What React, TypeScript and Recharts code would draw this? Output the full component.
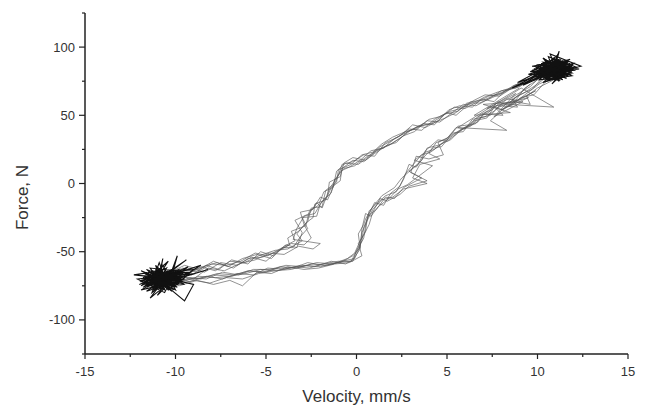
import { ComposedChart, Line, XAxis, YAxis } from "recharts";

type Pt = [number, number];

const X_TICKS = [-15, -12.5, -10, -7.5, -5, -2.5, 0, 2.5, 5, 7.5, 10, 12.5, 15];
const Y_TICKS = [-125, -100, -75, -50, -25, 0, 25, 50, 75, 100, 125];

// noisy dwell at the negative end
const leftNoise: Pt[] = [
  [-10.8, -70], [-11.6, -66], [-10.2, -74], [-11.9, -72], [-10.5, -62], [-11.2, -78], [-9.8, -68],
  [-11.7, -69], [-10.4, -76], [-10.9, -58], [-11.3, -73], [-9.6, -66], [-12.1, -70], [-10.6, -80],
  [-10.0, -64], [-11.4, -62], [-10.7, -75], [-9.3, -61], [-11.8, -76], [-10.3, -68], [-11.0, -82],
  [-10.1, -70], [-12.3, -67], [-10.8, -64], [-9.9, -74], [-11.5, -70], [-10.4, -57], [-11.1, -71],
  [-9.5, -70], [-11.6, -79], [-10.2, -66], [-10.9, -73], [-9.2, -65], [-11.3, -67], [-10.6, -71],
  [-11.9, -64], [-10.0, -78], [-10.7, -60], [-11.2, -75], [-9.7, -72], [-10.5, -68], [-11.4, -84],
  [-10.3, -72], [-11.7, -73], [-10.8, -66], [-9.0, -63], [-10.1, -76], [-11.0, -69], [-12.0, -74],
  [-10.4, -65], [-9.4, -56], [-10.9, -71], [-11.5, -66], [-10.2, -79], [-10.7, -69], [-8.6, -60],
  [-9.8, -70], [-11.1, -63], [-10.6, -74], [-9.5, -86], [-9.0, -74], [-10.3, -70],
];

const leftNoise2: Pt[] = [
  [-11.0, -71], [-11.8, -69], [-10.4, -73], [-11.3, -66], [-10.7, -77], [-11.6, -74], [-10.2, -68],
  [-11.1, -64], [-10.8, -75], [-11.9, -71], [-10.5, -70], [-11.4, -77], [-10.1, -66], [-11.7, -68],
  [-10.9, -73], [-11.2, -79], [-10.3, -71], [-11.5, -65], [-10.6, -67], [-11.9, -75], [-10.8, -62],
  [-11.3, -72], [-10.0, -73], [-11.6, -70], [-10.7, -69], [-11.1, -76], [-10.4, -64], [-11.8, -73],
  [-10.6, -78], [-11.0, -67], [-10.2, -75], [-11.5, -71], [-10.9, -66], [-11.3, -80], [-10.5, -72],
  [-11.7, -66], [-10.8, -70], [-11.2, -74], [-10.1, -70], [-11.4, -68], [-10.6, -74], [-11.9, -78],
  [-10.3, -66], [-11.0, -73], [-10.7, -55], [-10.9, -70], [-11.6, -76], [-10.4, -69], [-11.1, -60],
  [-10.8, -72], [-9.6, -64], [-10.5, -68], [-8.9, -66], [-10.2, -71], [-8.2, -63], [-9.7, -69],
];

const leftNoise3: Pt[] = [
  [-10.6, -70], [-9.7, -66], [-11.4, -72], [-10.0, -75], [-11.1, -65], [-9.6, -72], [-11.7, -75],
  [-10.3, -64], [-10.9, -77], [-9.9, -69], [-11.5, -68], [-10.4, -74], [-9.5, -65], [-11.2, -70],
  [-10.1, -78], [-10.8, -66], [-9.8, -73], [-11.6, -63], [-10.5, -76], [-11.0, -71], [-9.6, -68],
  [-11.3, -77], [-10.2, -63], [-10.9, -68], [-9.9, -76], [-11.8, -70], [-10.6, -65], [-10.0, -71],
  [-11.2, -67], [-10.4, -78], [-9.7, -70], [-11.0, -74], [-10.7, -64], [-11.5, -73], [-10.2, -69],
  [-9.5, -74], [-10.8, -72], [-11.3, -64], [-10.1, -67], [-10.6, -76], [-9.8, -63], [-11.1, -69],
  [-10.4, -71], [-9.9, -53], [-10.3, -72], [-11.7, -66], [-10.7, -73],
];

// noisy dwell at the positive end
const rightNoise: Pt[] = [
  [10.8, 82], [11.6, 86], [10.2, 78], [11.9, 84], [10.5, 90], [11.2, 76], [9.8, 84], [12.2, 85],
  [10.6, 93], [11.0, 79], [9.5, 80], [11.5, 88], [10.3, 74], [11.8, 80], [10.1, 87], [11.3, 83],
  [9.9, 77], [12.4, 86], [10.7, 95], [11.1, 81], [10.0, 84], [11.7, 89], [10.4, 79], [11.4, 78],
  [10.9, 91], [9.6, 82], [11.9, 82], [10.6, 76], [11.2, 87], [10.2, 83], [12.0, 88], [10.8, 73],
  [11.5, 84], [9.7, 86], [11.0, 89], [10.5, 80], [11.6, 81], [10.3, 92], [11.3, 77], [10.1, 81],
  [12.1, 83], [10.9, 85], [9.4, 76], [11.4, 90], [10.6, 84], [11.8, 86], [10.7, 78], [11.1, 94],
  [10.4, 86], [11.7, 79], [10.0, 80], [11.2, 84], [9.2, 72], [10.8, 88], [11.5, 82], [10.3, 82],
  [11.0, 86], [12.3, 84], [10.6, 81], [11.2, 75], [10.8, 83],
];

const rightNoise2: Pt[] = [
  [10.9, 83], [11.7, 85], [10.3, 81], [11.2, 88], [10.6, 78], [11.9, 86], [10.1, 84], [11.4, 80],
  [10.8, 89], [11.6, 83], [10.4, 86], [11.1, 78], [10.0, 82], [11.8, 88], [10.7, 84], [11.3, 91],
  [10.5, 80], [12.0, 84], [10.2, 87], [11.5, 79], [10.9, 86], [11.0, 81], [10.3, 77], [11.7, 90],
  [10.6, 85], [11.2, 82], [10.8, 79], [11.9, 81], [10.4, 89], [11.4, 85], [10.7, 81], [11.6, 87],
  [10.1, 79], [11.1, 85], [10.5, 83], [11.3, 79], [10.9, 88], [11.8, 83], [10.2, 82], [11.0, 87],
  [10.6, 80], [11.5, 86], [10.8, 84], [11.2, 97], [10.9, 82], [9.8, 76], [10.4, 80], [9.2, 73],
  [10.1, 78], [8.6, 70], [9.6, 77], [8.9, 74], [10.3, 84],
];

const rightNoise3: Pt[] = [
  [10.7, 84], [9.8, 80], [11.5, 90], [10.2, 88], [11.9, 79], [10.5, 76], [11.2, 91], [9.9, 85],
  [11.7, 82], [10.4, 91], [11.0, 76], [10.0, 79], [11.6, 88], [10.8, 80], [9.7, 83], [11.4, 76],
  [10.3, 89], [11.9, 87], [10.6, 82], [11.1, 90], [10.1, 76], [11.5, 78], [10.9, 92], [9.9, 81],
  [11.3, 86], [10.4, 77], [12.0, 85], [10.7, 89], [11.0, 83], [10.2, 80], [11.8, 91], [10.5, 86],
  [9.8, 78], [11.2, 80], [10.8, 87], [11.6, 77], [10.3, 84], [11.4, 89], [10.0, 87], [10.9, 78],
  [11.7, 84], [10.6, 90], [11.1, 82],
];

// scratchy bits on the upper-right part of the loop
const midNoise: Pt[] = [
  [9.0, 70], [6.5, 50], [8.5, 52], [7.0, 58], [9.2, 60], [7.6, 49], [8.8, 66], [7.2, 55], [9.5, 63],
  [8.0, 54], [9.9, 68], [8.4, 58], [10.9, 56], [9.1, 70], [5.6, 41], [8.3, 39], [7.4, 46], [9.6, 73],
];

const cycleA: Pt[] = [
  [-10.6, -70], [-9.9, -64], [-9.1, -67], [-8.3, -60], [-7.6, -63], [-6.9, -56], [-6.0, -59],
  [-5.3, -50], [-4.6, -53], [-3.9, -45], [-3.3, -47], [-3.0, -36], [-3.4, -27], [-2.6, -22],
  [-2.2, -14], [-1.9, -18], [-1.5, -4], [-1.0, 6], [-0.8, 14], [-0.2, 16], [0.4, 21], [1.0, 20],
  [1.6, 30], [2.3, 34], [2.9, 40], [3.6, 39], [4.3, 47], [5.0, 52], [5.5, 50], [6.2, 58], [6.9, 62],
  [7.6, 60], [8.2, 68], [9.0, 71], [9.8, 78], [10.6, 80],
  [10.9, 76], [10.0, 70], [9.4, 64], [9.6, 58], [8.7, 60], [8.1, 54], [7.6, 56], [7.2, 48],
  [6.5, 46], [6.0, 40], [5.5, 41], [5.0, 33], [4.4, 30], [4.0, 22], [4.6, 18], [3.5, 14], [3.1, 4],
  [3.9, 0], [2.6, -4], [2.0, -10], [1.4, -12], [0.9, -19], [0.6, -27], [0.3, -36], [0.2, -46],
  [-0.1, -55], [-0.8, -57], [-1.6, -60], [-2.5, -59], [-3.3, -62], [-4.2, -61], [-5.0, -65],
  [-5.9, -64], [-6.8, -67], [-7.7, -66], [-8.6, -70], [-9.5, -69], [-10.4, -72],
];

const cycleB: Pt[] = [
  [-10.9, -72], [-10.0, -67], [-9.2, -62], [-8.4, -65], [-7.5, -58], [-6.6, -60], [-5.8, -54],
  [-5.0, -57], [-4.3, -49], [-3.6, -44], [-2.9, -45], [-2.5, -40], [-2.9, -30], [-3.1, -21],
  [-2.4, -19], [-2.0, -10], [-1.6, -12], [-1.2, 0], [-0.9, 9], [-0.4, 12], [0.2, 17], [0.8, 24],
  [1.5, 26], [2.1, 33], [2.7, 37], [3.4, 42], [4.1, 44], [4.8, 50], [5.4, 56], [6.0, 55], [6.7, 60],
  [7.3, 64], [8.0, 66], [8.7, 72], [9.5, 74], [10.3, 80],
  [10.6, 79], [9.9, 72], [9.2, 66], [8.6, 62], [8.9, 56], [7.9, 57], [7.4, 50], [6.8, 48],
  [6.3, 42], [5.7, 39], [5.2, 35], [4.7, 27], [4.2, 26], [3.7, 19], [3.3, 12], [2.9, 14], [2.6, 3],
  [2.2, -6], [1.6, -9], [1.1, -15], [0.7, -20], [0.5, -31], [0.4, -40], [0.0, -50], [-0.3, -57],
  [-1.1, -58], [-2.0, -61], [-2.8, -60], [-3.6, -63], [-4.5, -64], [-5.4, -66], [-6.3, -70],
  [-7.2, -69], [-8.1, -73], [-9.0, -71], [-9.9, -74], [-10.8, -70],
];

const cycleC: Pt[] = [
  [-11.2, -68], [-10.3, -65], [-9.5, -60], [-8.7, -63], [-7.9, -57], [-7.1, -61], [-6.3, -55],
  [-5.5, -52], [-4.7, -55], [-4.0, -46], [-3.4, -42], [-3.6, -35], [-2.8, -31], [-2.6, -20],
  [-2.1, -16], [-1.8, -6], [-1.3, -3], [-1.1, 9], [-0.6, 15], [0.1, 14], [0.7, 20], [1.3, 27],
  [1.9, 31], [2.5, 36], [3.1, 43], [3.8, 41], [4.5, 46], [5.1, 54], [5.7, 57], [6.4, 56], [7.0, 63],
  [7.8, 67], [8.5, 70], [9.3, 76], [10.1, 78], [10.8, 84],
  [10.3, 78], [9.7, 69], [9.0, 65], [8.4, 59], [7.7, 55], [8.1, 50], [7.0, 51], [6.6, 44],
  [6.0, 41], [5.4, 36], [4.9, 31], [4.3, 25], [3.8, 23], [3.2, 17], [4.2, 13], [3.5, 6], [2.8, -1],
  [2.3, -4], [1.8, -11], [1.2, -17], [0.8, -24], [0.5, -22], [0.3, -33], [0.2, -48], [-0.2, -56],
  [-0.6, -59], [-1.4, -57], [-2.3, -61], [-3.1, -60], [-4.0, -63], [-4.9, -62], [-5.7, -67],
  [-6.6, -66], [-7.4, -70], [-8.3, -68], [-9.2, -72], [-10.1, -70], [-11.0, -71],
];

const cycleD: Pt[] = [
  [-10.7, -74], [-9.8, -68], [-9.0, -70], [-8.2, -62], [-7.3, -64], [-6.5, -59], [-5.6, -56],
  [-4.8, -51], [-4.0, -52], [-3.2, -46], [-2.4, -48], [-2.0, -44], [-3.5, -41], [-3.3, -33],
  [-2.9, -24], [-2.3, -22], [-1.9, -13], [-1.4, -7], [-1.2, 3], [-0.7, 11], [-0.1, 13], [0.5, 19],
  [1.1, 24], [1.8, 28], [2.4, 33], [3.0, 39], [3.7, 44], [4.3, 43], [4.9, 51], [5.6, 53], [6.3, 60],
  [7.0, 61], [7.7, 65], [8.4, 69], [9.2, 73], [10.0, 77], [10.9, 82],
  [11.1, 80], [10.4, 74], [9.8, 65], [9.1, 63], [8.5, 57], [7.8, 60], [7.3, 52], [6.7, 49],
  [6.2, 43], [5.6, 42], [5.1, 34], [4.5, 30], [4.8, 21], [4.0, 18], [3.3, 20], [3.0, 8], [3.9, 2],
  [2.9, -2], [2.4, -8], [1.7, -13], [1.3, -11], [0.9, -21], [0.7, -30], [0.4, -38], [0.1, -44],
  [0.3, -53], [-0.4, -58], [-1.2, -59], [-2.1, -62], [-2.9, -63], [-3.8, -61], [-4.7, -66],
  [-5.5, -65], [-6.3, -75], [-7.0, -71], [-7.9, -74], [-8.8, -71], [-9.8, -75], [-10.6, -72],
];

const cycleE: Pt[] = [
  [-10.4, -69], [-9.6, -62], [-8.8, -65], [-8.0, -59], [-7.2, -60], [-6.4, -57], [-5.6, -51],
  [-4.9, -53], [-4.1, -47], [-3.5, -47], [-3.1, -39], [-2.7, -33], [-3.0, -25], [-2.2, -24],
  [-2.0, -15], [-1.6, -9], [-1.5, 1], [-0.9, 5], [-0.7, 15], [-0.2, 19], [0.5, 17], [1.2, 25],
  [1.9, 29], [2.6, 35], [3.2, 38], [3.9, 46], [4.6, 45], [5.3, 52], [5.9, 58], [6.6, 57], [7.3, 62],
  [8.0, 68], [8.8, 70], [9.6, 75], [10.4, 81],
  [10.8, 77], [10.1, 73], [9.5, 67], [8.9, 61], [8.3, 62], [7.6, 53], [7.1, 49], [6.4, 47],
  [5.9, 38], [5.3, 37], [4.7, 29], [4.1, 23], [3.6, 21], [3.0, 12], [2.7, 7], [2.4, -2], [1.9, -7],
  [1.5, -16], [1.0, -14], [0.6, -25], [0.5, -35], [0.2, -42], [-0.1, -51], [-0.5, -55], [-1.3, -59],
  [-2.2, -58], [-3.0, -61], [-3.9, -60], [-4.8, -63], [-5.7, -63], [-6.5, -67], [-7.4, -65],
  [-8.3, -70], [-9.2, -69], [-10.0, -73], [-10.9, -68],
];

const cycleF: Pt[] = [
  [-11.0, -71], [-10.1, -63], [-9.3, -66], [-8.5, -61], [-7.7, -58], [-6.8, -62], [-6.0, -55],
  [-5.2, -54], [-4.4, -50], [-3.7, -45], [-3.8, -40], [-3.2, -35], [-2.7, -28], [-2.5, -18],
  [-1.9, -17], [-1.7, -5], [-1.1, 1], [-1.0, 10], [-0.3, 14], [0.3, 21], [0.9, 23], [1.4, 29],
  [2.0, 34], [2.7, 38], [3.3, 40], [4.0, 47], [4.6, 49], [5.2, 53], [5.8, 55], [6.5, 61], [7.1, 65],
  [7.9, 64], [8.6, 70], [9.4, 74], [10.2, 79], [10.9, 83],
  [10.2, 79], [9.6, 71], [9.2, 68], [8.7, 64], [7.9, 59], [7.5, 54], [6.9, 51], [6.4, 44],
  [5.8, 40], [5.2, 32], [4.5, 28], [3.9, 26], [3.6, 17], [3.1, 11], [2.5, 4], [2.1, -3], [1.4, -9],
  [0.9, -17], [0.5, -26], [0.4, -30], [0.1, -37], [0.2, -47], [-0.2, -53], [-0.9, -58], [-1.8, -60],
  [-2.7, -58], [-3.5, -62], [-4.3, -62], [-5.2, -65], [-6.0, -64], [-6.9, -68], [-7.8, -69],
  [-8.7, -68], [-9.6, -72], [-10.5, -71],
];

const cycleG: Pt[] = [
  [-10.2, -70], [-9.4, -67], [-8.6, -61], [-7.8, -64], [-7.0, -57], [-6.2, -58], [-5.4, -53],
  [-4.5, -49], [-3.8, -48], [-3.0, -42], [-3.3, -37], [-2.8, -29], [-2.4, -25], [-2.3, -15],
  [-1.7, -12], [-1.4, -3], [-0.9, 2], [-0.8, 11], [-0.2, 17], [0.4, 16], [1.0, 22], [1.7, 28],
  [2.2, 30], [2.8, 38], [3.5, 42], [4.2, 44], [4.9, 48], [5.5, 52], [6.1, 59], [6.8, 59], [7.5, 63],
  [8.2, 67], [9.0, 74], [9.9, 76], [10.7, 81],
  [10.0, 76], [9.3, 70], [8.8, 61], [8.2, 59], [7.7, 57], [7.1, 52], [6.7, 45], [6.1, 42],
  [5.5, 36], [5.0, 31], [4.5, 32], [3.8, 24], [3.4, 14], [2.9, 9], [3.6, 4], [2.6, -3], [2.1, -11],
  [1.6, -10], [1.1, -19], [0.7, -23], [0.4, -32], [0.3, -42], [0.0, -49], [-0.2, -57], [-1.0, -57],
  [-1.9, -59], [-2.6, -62], [-3.4, -61], [-4.4, -64], [-5.3, -63], [-6.1, -66], [-7.0, -68],
  [-7.9, -67], [-8.9, -70], [-9.8, -71], [-10.7, -69],
];

const CYCLES = [cycleA, cycleB, cycleC, cycleD, cycleE, cycleF, cycleG, midNoise];
const DWELLS = [leftNoise, leftNoise2, leftNoise3, rightNoise, rightNoise2, rightNoise3];

const AXIS = "#222";
const TEXT = "#333";
const FONT = "Arial, 'Liberation Sans', sans-serif";

const toRows = (pts: Pt[]) => pts.map(([v, f]) => ({ v, f }));

function XTick({ x, y, payload }: any) {
  const major = payload.value % 5 === 0;
  return (
    <g>
      <line x1={x} x2={x} y1={y} y2={y + (major ? 5 : 3)} stroke={AXIS} strokeWidth={1.2} />
      {major && (
        <text x={x} y={y + 22} textAnchor="middle" fontSize={13} fill={TEXT} fontFamily={FONT}>
          {payload.value}
        </text>
      )}
    </g>
  );
}

function YTick({ x, y, payload }: any) {
  const major = payload.value % 50 === 0 && Math.abs(payload.value) < 125;
  return (
    <g>
      <line x1={x} x2={x - (major ? 6 : 3)} y1={y} y2={y} stroke={AXIS} strokeWidth={1.2} />
      {major && (
        <text x={x - 10} y={y + 4.5} textAnchor="end" fontSize={13} fill={TEXT} fontFamily={FONT}>
          {payload.value}
        </text>
      )}
    </g>
  );
}

export default function App() {
  return (
    <div style={{ width: 651, height: 412, background: "#fff" }}>
      <style>{"body{margin:0}"}</style>
      <ComposedChart width={651} height={412} margin={{ top: 13, right: 23, bottom: 0, left: 0 }}>
        <XAxis
          dataKey="v"
          type="number"
          domain={[-15, 15]}
          ticks={X_TICKS}
          interval={0}
          allowDataOverflow
          height={58}
          stroke={AXIS}
          strokeWidth={1.5}
          tickLine={false}
          tickSize={0}
          tickMargin={0}
          tick={<XTick />}
          label={{
            content: ({ viewBox }: any) => (
              <text
                x={viewBox.x + viewBox.width / 2}
                y={viewBox.y + 48}
                textAnchor="middle"
                fontSize={17}
                fill={TEXT}
                fontFamily={FONT}
              >
                Velocity, mm/s
              </text>
            ),
          }}
        />
        <YAxis
          type="number"
          domain={[-125, 125]}
          ticks={Y_TICKS}
          interval={0}
          allowDataOverflow
          width={85}
          stroke={AXIS}
          strokeWidth={1.5}
          tickLine={false}
          tickSize={0}
          tickMargin={0}
          tick={<YTick />}
          label={{
            content: ({ viewBox }: any) => {
              const cx = 22;
              const cy = viewBox.y + viewBox.height / 2 + 14;
              return (
                <text
                  x={cx}
                  y={cy}
                  transform={`rotate(-90 ${cx} ${cy})`}
                  textAnchor="middle"
                  dominantBaseline="central"
                  fontSize={17}
                  fill={TEXT}
                  fontFamily={FONT}
                >
                  Force, N
                </text>
              );
            },
          }}
        />
        {CYCLES.map((s, i) => (
          <Line
            key={`c${i}`}
            data={toRows(s)}
            dataKey="f"
            type="linear"
            dot={false}
            activeDot={false}
            stroke="#555"
            strokeOpacity={0.8}
            strokeWidth={0.8}
            isAnimationActive={false}
          />
        ))}
        {DWELLS.map((s, i) => (
          <Line
            key={`d${i}`}
            data={toRows(s)}
            dataKey="f"
            type="linear"
            dot={false}
            activeDot={false}
            stroke="#111"
            strokeWidth={1.1}
            isAnimationActive={false}
          />
        ))}
      </ComposedChart>
    </div>
  );
}
